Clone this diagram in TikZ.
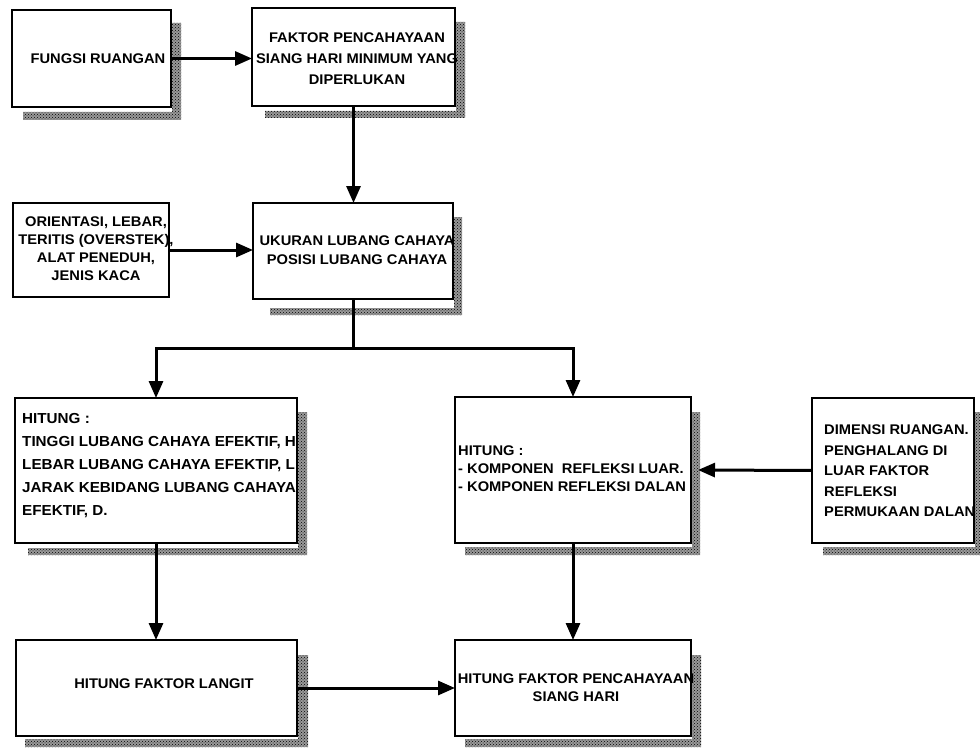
\documentclass[tikz,border=0pt]{standalone}
\usepackage{fontspec}
\setmainfont{Liberation Sans}[FakeStretch=1.05]
\usetikzlibrary{arrows.meta,patterns}
\tikzset{
  box/.style={draw, line width=2pt, inner sep=0pt, outer sep=0pt, anchor=north west, fill=white},
  shadowfill/.style={fill=black!40, draw=none},
  shadowdots/.style={pattern=crosshatch dots, pattern color=black, draw=none},
  lbl/.style={font=\bfseries\fontsize{14}{21}\selectfont, inner sep=0pt, align=center},
  lbll/.style={font=\bfseries\fontsize{14}{21}\selectfont, inner sep=0pt, align=left, anchor=west},
  conn/.style={line width=3pt, -{Triangle[width=14pt,length=17pt]}},
  wire/.style={line width=3pt}
}
\begin{document}
\begin{tikzpicture}[x=1pt,y=-1pt]
\useasboundingbox[fill=white] (0,0) rectangle (980,749);
% shadows
\foreach \s in {shadowfill,shadowdots}{
\path[\s] (172,23) rectangle (181,120) (23,112) rectangle (181,120);
\path[\s] (456,22) rectangle (465,118) (265,111) rectangle (465,118);
\path[\s] (454,217) rectangle (462,315) (270,308) rectangle (462,315);
\path[\s] (298,412) rectangle (307,555) (28,548) rectangle (307,555);
\path[\s] (692,412) rectangle (700,555) (465,547) rectangle (700,555);
\path[\s] (975,412) rectangle (980,555) (823,547) rectangle (980,555);
\path[\s] (298,655) rectangle (308,747) (25,739) rectangle (308,747);
\path[\s] (692,655) rectangle (701,747) (465,739) rectangle (701,747);
}
% boxes
\node[box, minimum width=159pt, minimum height=97pt] (b1) at (12,10) {};
\node[box, minimum width=203pt, minimum height=98pt] (b2) at (252,8) {};
\node[box, minimum width=156pt, minimum height=94pt] (b3) at (13,203) {};
\node[box, minimum width=200pt, minimum height=96pt] (b4) at (253,203) {};
\node[box, minimum width=282pt, minimum height=145pt] (b5) at (15,398) {};
\node[box, minimum width=236pt, minimum height=146pt] (b6) at (455,397) {};
\node[box, minimum width=162pt, minimum height=145pt] (b7) at (812,398) {};
\node[box, minimum width=281pt, minimum height=96pt] (b8) at (16,640) {};
\node[box, minimum width=236pt, minimum height=96pt] (b9) at (455,640) {};
% texts
\node[lbl] (t1) at (98,59) {FUNGSI RUANGAN};
\node[lbl] (t2) at (357,59) {FAKTOR PENCAHAYAAN\\SIANG HARI MINIMUM YANG\\DIPERLUKAN};
\node[lbl, font=\bfseries\fontsize{14}{18}\selectfont] (t3) at (96,249) {ORIENTASI, LEBAR,\\TERITIS (OVERSTEK),\\ALAT PENEDUH,\\JENIS KACA};
\node[lbl, font=\bfseries\fontsize{14}{19}\selectfont] (t4) at (357,250) {UKURAN LUBANG CAHAYA\\POSISI LUBANG CAHAYA};
\node[lbll, font=\bfseries\fontsize{14.5}{23}\selectfont] (t5) at (22,466) {HITUNG :\\TINGGI LUBANG CAHAYA EFEKTIF, H\\LEBAR LUBANG CAHAYA EFEKTIP, L\\JARAK KEBIDANG LUBANG CAHAYA\\EFEKTIF, D.};
\node[lbll, font=\bfseries\fontsize{14}{18}\selectfont] (t6) at (458,469) {HITUNG :\\- KOMPONEN\ \ REFLEKSI LUAR.\\- KOMPONEN REFLEKSI DALAN};
\node[lbll, font=\bfseries\fontsize{14}{20.5}\selectfont] (t7) at (824,471) {DIMENSI RUANGAN.\\PENGHALANG DI\\LUAR FAKTOR\\REFLEKSI\\PERMUKAAN DALAN};
\node[lbl] (t8) at (164,684) {HITUNG FAKTOR LANGIT};
\node[lbl, font=\bfseries\fontsize{14}{18}\selectfont] (t9) at (576,688) {HITUNG FAKTOR PENCAHAYAAN\\SIANG HARI};
% connectors
\draw[conn] (b1.east) -- (b2.west |- b1.east);
\draw[conn] (b2.south) -- (b2.south |- b4.north);
\draw[conn] (b3.east) -- (b4.west |- b3.east);
\coordinate (split) at (353,348);
\draw[wire] (b4.south) -- (split);
\draw[conn] (split) -| (b5.north);
\draw[conn] (split) -| (b6.north);
\coordinate (b6r) at ([xshift=7pt]b6.east);
\draw[conn] (b7.west) -- (b6r);
\draw[conn] (b5.south) -- (b5.south |- b8.north);
\draw[conn] (b6.south) -- (b6.south |- b9.north);
\draw[conn] (b8.east) -- (b8.east -| b9.west);
\end{tikzpicture}
\end{document}
